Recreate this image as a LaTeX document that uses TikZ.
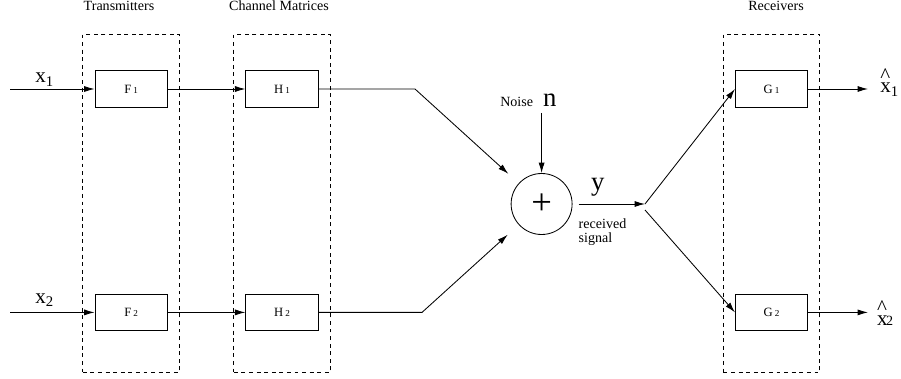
\documentclass[tikz,border=0pt]{standalone}
\usepackage{fontspec}
\setmainfont{Liberation Serif}
\usetikzlibrary{arrows.meta,positioning}

\newcommand{\blklab}[2]{#1\,{\fontsize{6.5}{7}\selectfont #2}}
\newcommand{\esthat}[1]{\rlap{\raisebox{7.4pt}{\textasciicircum}}#1}

\begin{document}
\begin{tikzpicture}[x=1cm,y=1cm,
  blk/.style={draw, line width=0.6pt, minimum width=1.81cm, minimum height=0.915cm, inner sep=0pt, font=\fontsize{9}{10}\selectfont},
  grp/.style={draw, dash pattern=on 2.8pt off 2.6pt, line width=0.6pt, minimum width=2.41cm, minimum height=8.46cm, inner sep=0pt},
  sig/.style={-{Latex[length=2.6mm,width=1.5mm]}, line width=0.6pt},
  head/.style={anchor=base, inner sep=0pt, font=\fontsize{10}{12}\selectfont},
  big/.style={anchor=base west, inner sep=0pt, font=\fontsize{15}{18}\selectfont}]
  \useasboundingbox (0,0) rectangle (22.525,-9.475);

  % groups
  \node[grp] (tx) at (3.275,-5.0875) {};
  \node[grp] (ch) at (7.05,-5.0875) {};
  \node[grp] (rx) at (19.29,-5.0875) {};
  \node[head] (txlab) at (2.975,-0.275) {Transmitters};
  \node[head] (chlab) at (6.975,-0.275) {Channel Matrices};
  \node[head] (rxlab) at (19.4,-0.275) {Receivers};

  % blocks
  \node[blk] (f1) at (3.28,-2.225) {\blklab{F}{1}};
  \node[blk] (f2) at (3.28,-7.81) {\blklab{F}{2}};
  \node[blk] (h1) at (7.05,-2.225) {\blklab{H}{1}};
  \node[blk] (h2) at (7.05,-7.81) {\blklab{H}{2}};
  \node[blk] (g1) at (19.29,-2.225) {\blklab{G}{1}};
  \node[blk] (g2) at (19.29,-7.81) {\blklab{G}{2}};
  \node[circle, draw, line width=0.6pt, minimum size=1.525cm, inner sep=0pt, font=\fontsize{26}{26}\selectfont] (sum) at (13.54,-5.1) {+};

  % inputs
  \coordinate (in1) at (0.25,-2.225);
  \coordinate (in2) at (0.25,-7.81);
  \node[big] (x1) at (0.875,-2.075) {x\textsubscript{1}};
  \node[big] (x2) at (0.875,-7.58) {x\textsubscript{2}};
  \draw[sig] (in1) -- (f1);
  \draw[sig] (in2) -- (f2);
  \draw[sig] (f1) -- (h1);
  \draw[sig] (f2) -- (h2);

  % channel to adder
  \coordinate (k1) at (10.375,-2.225);
  \coordinate (k2) at (10.55,-7.81);
  \draw[sig, shorten >=0.35cm] (h1) -- (k1) -- (sum);
  \draw[sig, shorten >=0.37cm] (h2) -- (k2) -- (sum);

  % noise
  \node[anchor=base west, inner sep=0pt, font=\fontsize{10}{12}\selectfont] (noise) at (12.5,-2.667) {Noise};
  \node[anchor=base west, inner sep=0pt, font=\fontsize{19}{22}\selectfont] (n) at (13.57,-2.667) {n};
  \coordinate (nin) at (13.54,-2.825);
  \draw[sig] (nin) -- (sum);

  % received signal
  \coordinate (split) at (16.125,-5.1);
  \coordinate (split2) at (16.125,-5.25);
  \draw[sig, shorten <=0.15cm] (sum) -- (split);
  \node[anchor=base west, inner sep=0pt, font=\fontsize{19}{22}\selectfont] (y) at (14.77,-4.76) {y};
  \node[anchor=north west, inner sep=0pt, align=left, font=\fontsize{10}{9.5}\selectfont] (rs) at (14.46,-5.47) {received\\signal};
  \draw[sig] (split) -- (g1.west);
  \draw[sig] (split2) -- (g2.west);

  % outputs
  \coordinate (o1) at (21.7,-2.225);
  \coordinate (o2) at (21.7,-7.81);
  \draw[sig] (g1) -- (o1);
  \draw[sig] (g2) -- (o2);
  \node[big] (xh1) at (22.0,-2.325) {\esthat{x}\textsubscript{1}};
  \node[big] (xh2) at (21.92,-8.125) {\esthat{x}\kern-1pt{\fontsize{10}{12}\selectfont 2}};
\end{tikzpicture}
\end{document}
